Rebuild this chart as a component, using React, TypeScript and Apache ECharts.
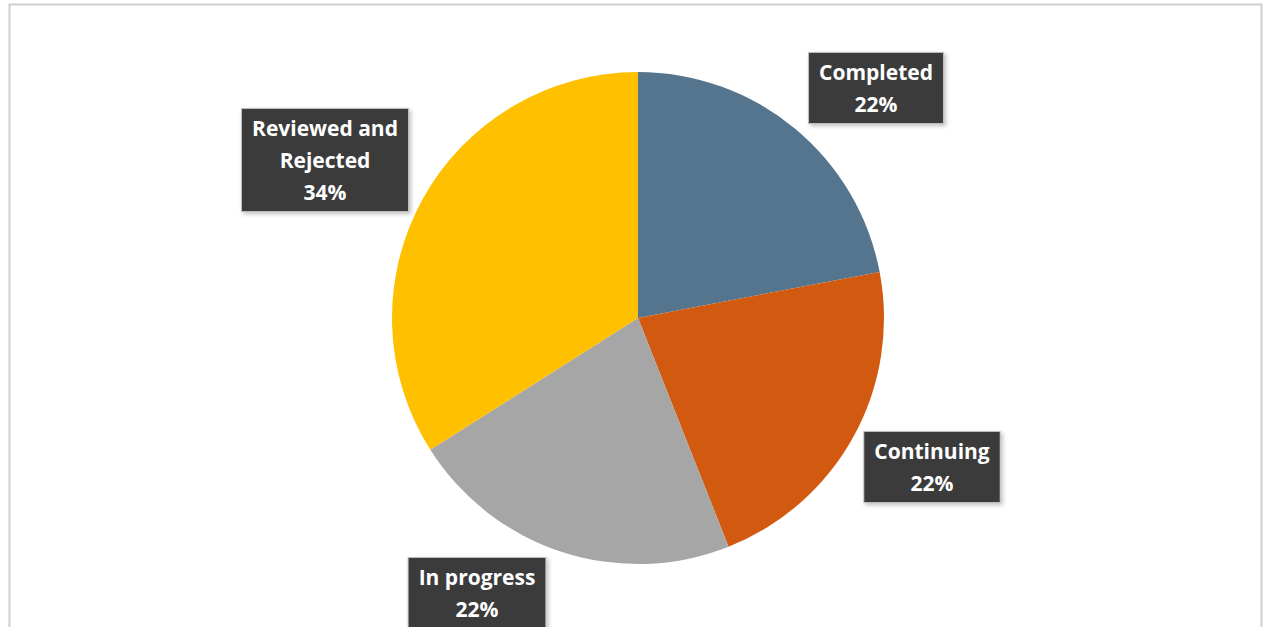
import React, { useEffect, useRef } from "react";
import * as echarts from "echarts";

const categories = ["Completed", "Continuing", "In progress", "Reviewed and Rejected"];
const values = [22, 22, 22, 34];
const colors = ["#55758F", "#D15A10", "#A6A6A6", "#FFC000"];
// label box centres, in chart pixels
const labelCenters: [number, number][] = [
  [876, 88],
  [932, 467],
  [477, 593],
  [325, 160],
];

export default function App() {
  const ref = useRef<HTMLDivElement>(null);

  useEffect(() => {
    if (!ref.current) return;
    const chart = echarts.init(ref.current, null, { renderer: "svg" });
    chart.setOption({
      animation: false,
      backgroundColor: "#ffffff",
      graphic: [
        {
          type: "rect",
          shape: { x: 9.5, y: 4.5, width: 1252, height: 660 },
          style: { fill: "none", stroke: "#cfcfcf", lineWidth: 2 },
          silent: true,
        },
      ],
      series: [
        {
          type: "pie",
          center: [638, 318],
          radius: 246,
          startAngle: 90,
          clockwise: true,
          data: categories.map((name, i) => ({
            name,
            value: values[i],
            itemStyle: { color: colors[i] },
          })),
          itemStyle: { borderColor: "#ffffff", borderWidth: 0 },
          labelLine: { show: false },
          label: {
            show: true,
            position: "outside",
            formatter: (p: any) => `${p.name.replace("and ", "and\n")}\n${p.percent.toFixed(0)}%`,
            color: "#ffffff",
            fontFamily: "Open Sans",
            fontWeight: "bold",
            fontSize: 21,
            lineHeight: 32,
            align: "center",
            backgroundColor: "#3a3a3a",
            borderColor: "#bdbdbd",
            borderWidth: 1,
            padding: [3, 10, 3, 10],
            shadowColor: "rgba(0,0,0,0.25)",
            shadowBlur: 4,
            shadowOffsetX: 2,
            shadowOffsetY: 2,
          },
          labelLayout: (params: any) => {
            const c = labelCenters[params.dataIndex];
            return { x: c[0], y: c[1], align: "center", verticalAlign: "middle" };
          },
        },
      ],
    });
    return () => chart.dispose();
  }, []);

  return (
    <div
      ref={ref}
      style={{ position: "fixed", left: 0, top: 0, width: 1265, height: 627 }}
    />
  );
}
